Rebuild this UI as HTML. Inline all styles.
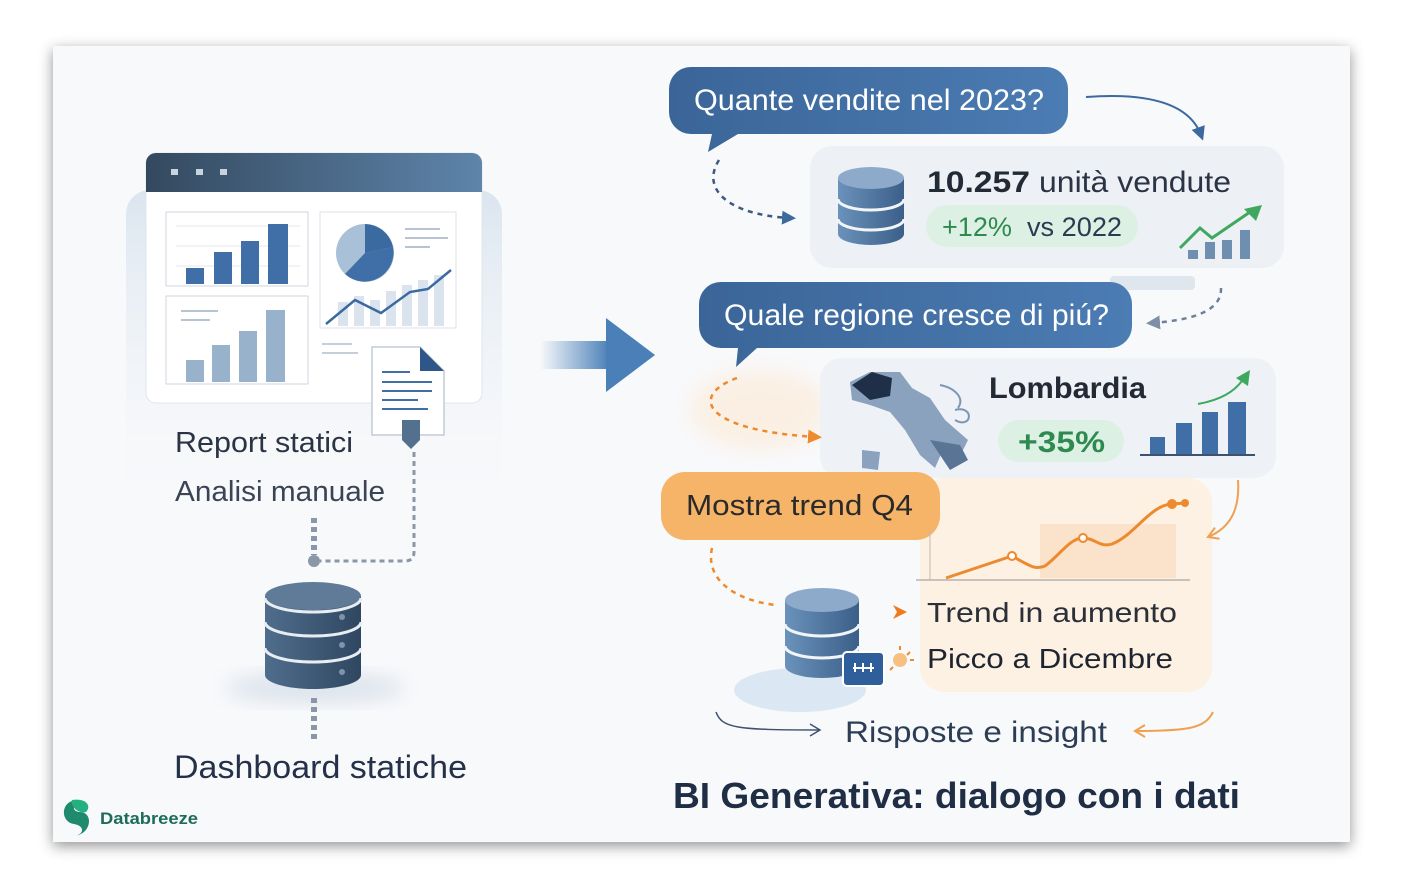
<!DOCTYPE html>
<html><head><meta charset="utf-8"><style>
html,body{margin:0;padding:0;background:#fff;width:1411px;height:893px;overflow:hidden}
svg{display:block;font-family:"Liberation Sans",sans-serif}
</style></head><body>
<svg width="1411" height="893" viewBox="0 0 1411 893" xmlns="http://www.w3.org/2000/svg">
<defs>
<filter id="sh" x="-5%" y="-5%" width="110%" height="110%"><feGaussianBlur stdDeviation="7"/></filter>
<filter id="bl" x="-20%" y="-20%" width="140%" height="140%"><feGaussianBlur stdDeviation="10"/></filter>
<linearGradient id="hdr" x1="0" x2="1"><stop offset="0" stop-color="#34495f"/><stop offset="1" stop-color="#5e84aa"/></linearGradient>
<linearGradient id="bub" x1="0" x2="1"><stop offset="0" stop-color="#3b6598"/><stop offset="1" stop-color="#4b7cb3"/></linearGradient>
<linearGradient id="arr" x1="0" x2="1"><stop offset="0" stop-color="#4a7fb8" stop-opacity="0"/><stop offset="1" stop-color="#4a7fb8"/></linearGradient>
<linearGradient id="db" x1="0" x2="1"><stop offset="0" stop-color="#4f6d8c"/><stop offset="1" stop-color="#2f4761"/></linearGradient>
<linearGradient id="db2" x1="0" x2="1"><stop offset="0" stop-color="#6a92bb"/><stop offset="1" stop-color="#3b5f88"/></linearGradient>
<linearGradient id="lp" x1="0" y1="0" x2="0" y2="1"><stop offset="0" stop-color="#dbe5ef"/><stop offset="1" stop-color="#f3f6f9" stop-opacity="0"/></linearGradient>
<marker id="mb" markerUnits="userSpaceOnUse" markerWidth="14" markerHeight="14" refX="8" refY="7" orient="auto"><path d="M0,0 L14,7 L0,14 z" fill="#3c6a9e"/></marker>
<marker id="mg" markerUnits="userSpaceOnUse" markerWidth="14" markerHeight="14" refX="8" refY="7" orient="auto"><path d="M0,0 L14,7 L0,14 z" fill="#7d8fa6"/></marker>
<marker id="mo" markerUnits="userSpaceOnUse" markerWidth="14" markerHeight="14" refX="8" refY="7" orient="auto"><path d="M0,0 L14,7 L0,14 z" fill="#ee8a2e"/></marker>
<marker id="ml" markerUnits="userSpaceOnUse" markerWidth="14" markerHeight="14" refX="12" refY="7" orient="auto"><path d="M2,1 L12,7 L2,13" fill="none" stroke="#3d5270" stroke-width="1.5"/></marker>
<marker id="mlo" markerUnits="userSpaceOnUse" markerWidth="14" markerHeight="14" refX="12" refY="7" orient="auto"><path d="M2,1 L12,7 L2,13" fill="none" stroke="#f0a050" stroke-width="2"/></marker>
</defs>
<rect x="53" y="50" width="1297" height="796" fill="#777" filter="url(#sh)" opacity="0.8"/>
<rect x="53" y="46" width="1297" height="796" fill="#f8f9fb"/>

<rect x="126" y="190" width="376" height="320" rx="24" fill="url(#lp)"/>
<rect x="146" y="153" width="336" height="250" rx="10" fill="#fff" stroke="#dfe5ec"/>
<path d="M146,192 V163 a10,10 0 0 1 10,-10 H472 a10,10 0 0 1 10,10 V192 z" fill="url(#hdr)"/>
<rect x="171" y="169" width="7" height="6" fill="#c8d3de"/><rect x="196" y="169" width="7" height="6" fill="#c8d3de"/><rect x="220" y="169" width="7" height="6" fill="#c8d3de"/>
<rect x="166" y="212" width="142" height="74" fill="#fff" stroke="#cfd6de"/>
<g stroke="#e3e7ec"><line x1="176" y1="226" x2="300" y2="226"/><line x1="176" y1="246" x2="300" y2="246"/><line x1="176" y1="266" x2="300" y2="266"/></g>
<g fill="#3f6fa6"><rect x="186" y="268" width="18" height="16"/><rect x="214" y="252" width="18" height="32"/><rect x="241" y="241" width="18" height="43"/><rect x="268" y="224" width="20" height="60"/></g>
<rect x="166" y="296" width="142" height="88" fill="#fff" stroke="#cfd6de"/>
<g stroke="#b7c3d0" stroke-width="2"><line x1="181" y1="311" x2="218" y2="311"/><line x1="181" y1="320" x2="210" y2="320"/></g>
<g fill="#98b2cc"><rect x="186" y="360" width="18" height="22"/><rect x="212" y="345" width="18" height="37"/><rect x="239" y="331" width="18" height="51"/><rect x="266" y="310" width="19" height="72"/></g>
<rect x="320" y="212" width="136" height="116" fill="#fff" stroke="#dde2e8"/>
<circle cx="365" cy="253" r="29" fill="#a8c0d8"/>
<path d="M365,253 L365,224 A29,29 0 0 1 393,247 z" fill="#3a6aa0"/>
<path d="M365,253 L393,247 A29,29 0 0 1 345,274 z" fill="#3f6fa6"/>
<g stroke="#b7c3d0" stroke-width="2"><line x1="405" y1="229" x2="440" y2="229"/><line x1="405" y1="238" x2="448" y2="238"/><line x1="405" y1="247" x2="430" y2="247"/></g>
<g fill="#dbe4ee"><rect x="338" y="302" width="10" height="24"/><rect x="354" y="296" width="10" height="30"/><rect x="370" y="300" width="10" height="26"/><rect x="386" y="291" width="10" height="35"/><rect x="402" y="285" width="10" height="41"/><rect x="418" y="280" width="10" height="46"/><rect x="434" y="275" width="10" height="51"/></g>
<polyline points="326,324 355,300 381,313 410,292 428,289 451,270" fill="none" stroke="#3a6aa0" stroke-width="2.5"/>
<g stroke="#c5cfda" stroke-width="2"><line x1="322" y1="344" x2="352" y2="344"/><line x1="322" y1="353" x2="358" y2="353"/></g>
<path d="M372,347 H420 L444,371 V435 H372 z" fill="#fff" stroke="#c4ccd6" stroke-width="1.5"/>
<path d="M420,347 L444,371 H420 z" fill="#2f5688"/>
<g stroke="#3f6fa6" stroke-width="2"><line x1="382" y1="372" x2="410" y2="372"/><line x1="382" y1="382" x2="432" y2="382"/><line x1="382" y1="391" x2="432" y2="391"/><line x1="382" y1="400" x2="418" y2="400"/><line x1="382" y1="409" x2="428" y2="409"/></g>
<path d="M402,420 H420 V440 L411,449 L402,440 z" fill="#53708f"/>
<text x="175" y="452" font-size="29" fill="#2a3445" textLength="178" lengthAdjust="spacingAndGlyphs">Report statici</text>
<text x="175" y="501" font-size="29" fill="#3a4455" textLength="210" lengthAdjust="spacingAndGlyphs">Analisi manuale</text>
<path d="M414,452 V552 Q414,561 405,561 H320" fill="none" stroke="#8a97a8" stroke-width="3" stroke-dasharray="5,4"/>
<line x1="314" y1="518" x2="314" y2="555" stroke="#8a97a8" stroke-width="6" stroke-dasharray="5,4"/>
<circle cx="314" cy="561" r="6" fill="#8a97a8"/>
<ellipse cx="315" cy="688" rx="90" ry="16" fill="#dde4ec" filter="url(#bl)"/>
<g>
<path d="M265,596 V675 A48,14 0 0 0 361,675 V596 z" fill="url(#db)"/>
<ellipse cx="313" cy="596" rx="48" ry="14" fill="#5f7b98"/>
<path d="M265,622 A48,14 0 0 0 361,622 M265,648 A48,14 0 0 0 361,648" fill="none" stroke="#e8edf2" stroke-width="3"/>
<path d="M265,598 A48,14 0 0 0 361,598" fill="none" stroke="#e8edf2" stroke-width="3"/>
<circle cx="342" cy="617" r="3" fill="#7f94aa"/><circle cx="342" cy="645" r="3" fill="#7f94aa"/><circle cx="342" cy="672" r="3" fill="#7f94aa"/>
</g>
<line x1="314" y1="698" x2="314" y2="740" stroke="#8a97a8" stroke-width="6" stroke-dasharray="5,4"/>
<text x="174" y="778" font-size="32" fill="#243149" textLength="293" lengthAdjust="spacingAndGlyphs">Dashboard statiche</text>
<path d="M78,800 C60,800 60,822 74,824 C86,826 84,836 72,836 C92,836 94,812 80,812 C72,812 70,803 86,802 Z" fill="#1f8a6e"/>
<path d="M72,800 C86,798 92,806 86,812 C78,814 70,806 72,800 z" fill="#25b07f"/>
<text x="100" y="824" font-size="17" fill="#1d6b5a" font-weight="bold" textLength="98" lengthAdjust="spacingAndGlyphs">Databreeze</text>

<rect x="540" y="341" width="70" height="28" fill="url(#arr)"/>
<path d="M606,318 L655,355 L606,392 z" fill="#4a7fb8"/>

<ellipse cx="760" cy="410" rx="70" ry="40" fill="#fde9d4" opacity="0.6" filter="url(#bl)"/>
<rect x="920" y="478" width="292" height="214" rx="24" fill="#fdf1e4"/>
<path d="M691,67 H1046 a22,22 0 0 1 22,22 V112 a22,22 0 0 1 -22,22 H738 L708,152 L712,134 H691 a22,22 0 0 1 -22,-22 V89 a22,22 0 0 1 22,-22 z" fill="url(#bub)"/>
<text x="694" y="110" font-size="30" fill="#fff" textLength="350" lengthAdjust="spacingAndGlyphs">Quante vendite nel 2023?</text>
<path d="M1086,97 C1140,93 1188,100 1201,135" fill="none" stroke="#3c6a9e" stroke-width="2" marker-end="url(#mb)"/>
<rect x="810" y="146" width="474" height="122" rx="22" fill="#edf0f4"/>
<path d="M719,160 C700,190 730,215 790,218" fill="none" stroke="#3c5a80" stroke-width="2.5" stroke-dasharray="5,5" marker-end="url(#mb)"/>
<g>
<path d="M838,178 V234 A33,11 0 0 0 904,234 V178 z" fill="url(#db2)"/>
<ellipse cx="871" cy="178" rx="33" ry="11" fill="#8eaacb"/>
<path d="M838,199 A33,11 0 0 0 904,199 M838,219 A33,11 0 0 0 904,219" fill="none" stroke="#f2f5f8" stroke-width="3"/>
</g>
<text x="927" y="192" font-size="30" fill="#222a36" font-weight="bold" textLength="103" lengthAdjust="spacingAndGlyphs">10.257</text>
<text x="1039" y="192" font-size="30" fill="#2a3445" textLength="192" lengthAdjust="spacingAndGlyphs">unità vendute</text>
<rect x="926" y="205" width="212" height="42" rx="21" fill="#dcf1e3"/>
<text x="942" y="236" font-size="27" fill="#2e8a50" textLength="70" lengthAdjust="spacingAndGlyphs">+12%</text>
<text x="1027" y="236" font-size="27" fill="#2d3b52" textLength="95" lengthAdjust="spacingAndGlyphs">vs 2022</text>
<g fill="#6f8fb0"><rect x="1188" y="250" width="10" height="9"/><rect x="1205" y="242" width="10" height="17"/><rect x="1222" y="240" width="10" height="19"/><rect x="1240" y="230" width="10" height="29"/></g>
<polyline points="1180,248 1200,228 1212,238 1250,212" fill="none" stroke="#3ea85e" stroke-width="3"/>
<path d="M1262,205 L1244,209 L1256,221 z" fill="#3ea85e"/>
<rect x="1110" y="276" width="85" height="14" rx="4" fill="#dfe6ee"/>
<path d="M721,282 H1110 a22,22 0 0 1 22,22 V326 a22,22 0 0 1 -22,22 H757 L736,367 L738,348 H721 a22,22 0 0 1 -22,-22 V304 a22,22 0 0 1 22,-22 z" fill="url(#bub)"/>
<text x="724" y="325" font-size="30" fill="#fff" textLength="385" lengthAdjust="spacingAndGlyphs">Quale regione cresce di piú?</text>
<path d="M1221,288 C1222,310 1195,320 1152,323" fill="none" stroke="#6f8099" stroke-width="2.5" stroke-dasharray="5,5" marker-end="url(#mg)"/>
<rect x="820" y="358" width="456" height="120" rx="22" fill="#eef1f5"/>
<path d="M737,378 C690,395 700,430 816,437" fill="none" stroke="#ee8a2e" stroke-width="2.5" stroke-dasharray="5,5" marker-end="url(#mo)"/>
<g>
<path d="M850,382 L870,372 L900,372 L912,388 L930,398 L945,420 L968,440 L962,452 L945,445 L935,468 L920,455 L905,430 L890,412 L870,405 L852,400 z" fill="#8aa2bd"/>
<path d="M852,385 L872,372 L892,378 L890,396 L870,400 z" fill="#1f2f48"/>
<path d="M862,450 L880,452 L878,470 L862,468 z" fill="#8aa2bd"/>
<path d="M930,440 L960,445 L968,460 L950,470 z" fill="#5a7496"/>
<path d="M940,385 C955,388 965,398 958,408 M955,410 C975,405 972,430 955,420" fill="none" stroke="#7c97b6" stroke-width="2"/>
</g>
<text x="989" y="398" font-size="30" fill="#222a36" font-weight="bold" textLength="157" lengthAdjust="spacingAndGlyphs">Lombardia</text>
<rect x="998" y="420" width="126" height="42" rx="21" fill="#dcf1e3"/>
<text x="1018" y="452" font-size="30" fill="#2e8a50" font-weight="bold" textLength="87" lengthAdjust="spacingAndGlyphs">+35%</text>
<g fill="#3f6fa6"><rect x="1150" y="437" width="15" height="18"/><rect x="1176" y="423" width="16" height="32"/><rect x="1202" y="412" width="16" height="43"/><rect x="1228" y="402" width="18" height="53"/></g>
<line x1="1140" y1="455" x2="1255" y2="455" stroke="#3d5270" stroke-width="2"/>
<path d="M1198,404 C1220,400 1235,392 1244,378" fill="none" stroke="#3ea85e" stroke-width="2"/>
<path d="M1250,370 L1236,378 L1248,386 z" fill="#3ea85e"/>
<rect x="661" y="472" width="279" height="68" rx="24" fill="#f6b469"/>
<text x="686" y="515" font-size="29" fill="#2a2a2a" textLength="227" lengthAdjust="spacingAndGlyphs">Mostra trend Q4</text>
<rect x="1040" y="524" width="136" height="54" fill="#f8dcc0" opacity="0.7"/>
<line x1="930" y1="530" x2="930" y2="580" stroke="#c9b8a8"/>
<line x1="916" y1="580" x2="1190" y2="580" stroke="#b9b2ab" stroke-width="1.5"/>
<path d="M946,578 L1012,556 C1030,566 1035,570 1045,566 C1060,555 1070,538 1083,538 C1095,538 1100,548 1112,544 C1135,535 1150,505 1172,504 L1185,503" fill="none" stroke="#ee8a2e" stroke-width="3"/>
<circle cx="1012" cy="556" r="4" fill="#fff" stroke="#ee8a2e" stroke-width="2"/>
<circle cx="1083" cy="538" r="4" fill="#fff" stroke="#ee8a2e" stroke-width="2"/>
<circle cx="1172" cy="504" r="5" fill="#ee8a2e"/><circle cx="1185" cy="503" r="4" fill="#ee8a2e"/>
<path d="M1238,480 C1240,510 1230,528 1208,537" fill="none" stroke="#f0a050" stroke-width="2" marker-end="url(#mlo)"/>
<path d="M712,548 C705,580 735,600 775,605" fill="none" stroke="#ee8a2e" stroke-width="2.5" stroke-dasharray="5,5"/>
<ellipse cx="800" cy="690" rx="66" ry="22" fill="#dbe8f4"/>
<g>
<path d="M785,600 V666 A37,12 0 0 0 859,666 V600 z" fill="url(#db2)"/>
<ellipse cx="822" cy="600" rx="37" ry="12" fill="#8eaacb"/>
<path d="M785,624 A37,12 0 0 0 859,624 M785,646 A37,12 0 0 0 859,646" fill="none" stroke="#f2f5f8" stroke-width="3"/>
</g>
<rect x="843" y="652" width="41" height="34" rx="4" fill="#2f5f9a" stroke="#fff" stroke-width="2"/>
<path d="M853,668 H874 M855,663 V672 M863,663 V672 M871,663 V672" stroke="#fff" stroke-width="2"/>
<path d="M893,605 L907,612 L893,619 L897,612 z" fill="#ee7a1e"/>
<text x="927" y="622" font-size="28" fill="#2a2f38" textLength="250" lengthAdjust="spacingAndGlyphs">Trend in aumento</text>
<circle cx="900" cy="660" r="7" fill="#f8c080"/>
<g stroke="#ee8a2e" stroke-width="2"><line x1="900" y1="646" x2="900" y2="650"/><line x1="910" y1="652" x2="907" y2="655"/><line x1="914" y1="660" x2="910" y2="660"/><line x1="890" y1="670" x2="893" y2="667"/></g>
<text x="927" y="668" font-size="28" fill="#1f2530" textLength="246" lengthAdjust="spacingAndGlyphs">Picco a Dicembre</text>
<path d="M716,712 C722,728 735,730 820,730" fill="none" stroke="#3d5270" stroke-width="1.5" marker-end="url(#ml)"/>
<text x="845" y="742" font-size="30" fill="#2d3d55" textLength="262" lengthAdjust="spacingAndGlyphs">Risposte e insight</text>
<path d="M1213,712 C1205,728 1190,731 1135,731" fill="none" stroke="#f0a050" stroke-width="2" marker-end="url(#mlo)"/>
<text x="673" y="808" font-size="36" fill="#1f2d45" font-weight="bold" textLength="567" lengthAdjust="spacingAndGlyphs">BI Generativa: dialogo con i dati</text>
</svg>
</body></html>
